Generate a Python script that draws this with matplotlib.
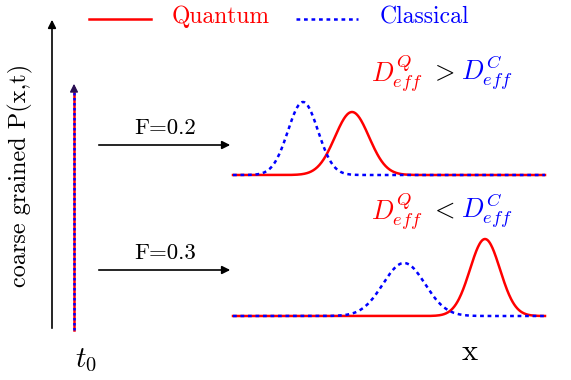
import numpy as np
import matplotlib
matplotlib.use("Agg")
import matplotlib.pyplot as plt

plt.rcParams['mathtext.fontset'] = 'cm'
plt.rcParams['font.family'] = ['cmr10', 'DejaVu Serif']

# Schematic data (pixel-like units, y downward)
legend_labels = ["Quantum", "Classical"]
force_labels = ["F=0.2", "F=0.3"]
baselines = [175, 316]
arrow_levels = [145, 270]
# peaks: (center, height, sigma)
quantum_peaks = [(352, 63, 17), (485, 77, 15)]
classical_peaks = [(303, 73, 15), (404, 53, 21)]
x_start, x_end = 233, 545

fig = plt.figure(figsize=(5.71, 3.80), dpi=100)
ax = fig.add_axes([0, 0, 1, 1])
ax.set_xlim(0, 571)
ax.set_ylim(380, 0)
ax.axis('off')

red = '#ff0000'
blue = '#0000ff'

# axes arrows
ax.annotate('', xy=(52, 17), xytext=(52, 331),
            arrowprops=dict(arrowstyle='-|>', color='black', lw=1.2, mutation_scale=12))
ax.annotate('', xy=(574, 330), xytext=(51, 330),
            arrowprops=dict(arrowstyle='-|>', color='black', lw=1.2, mutation_scale=12))

# t0 arrow (red solid with blue dotted on top)
ax.plot([74, 74], [330, 88], color=red, lw=1.8, zorder=4)
ax.plot([74, 74], [330, 90], color=blue, lw=1.8, ls=(0, (1.0, 1.0)), zorder=5)
ax.annotate('', xy=(74, 81), xytext=(74, 92),
            arrowprops=dict(arrowstyle='-|>', color='#2a0f55', lw=1.0, mutation_scale=12), zorder=6)

# curves
x = np.linspace(x_start, x_end, 600)
for b, (qc, qh, qs), (cc, ch, cs) in zip(baselines, quantum_peaks, classical_peaks):
    yq = b - qh * np.exp(-0.5 * ((x - qc) / qs) ** 2)
    yc = b - ch * np.exp(-0.5 * ((x - cc) / cs) ** 2)
    ax.plot(x, yq, color=red, lw=1.8)
    ax.plot(x, yc, color=blue, lw=1.8, ls=(0, (1.5, 1.5)))

# force arrows and labels
for ya, lab in zip(arrow_levels, force_labels):
    ax.annotate('', xy=(233, ya), xytext=(96, ya),
                arrowprops=dict(arrowstyle='-|>', color='black', lw=1.2, mutation_scale=12))
    ax.text(165, ya - 7, lab, ha='center', va='bottom', fontsize=16.5)

# D_eff annotations
for ytxt, sym in [(73, '>'), (211, '<')]:
    ax.text(423, ytxt, r'$D^Q_{eff}$', color=red, ha='right', va='center', fontsize=19)
    ax.text(442, ytxt, r'$' + sym + '$', color='black', ha='center', va='center', fontsize=19)
    ax.text(461, ytxt, r'$D^C_{eff}$', color=blue, ha='left', va='center', fontsize=19)

# legend
ax.plot([89, 151], [19, 19], color=red, lw=1.8)
ax.text(172, 17, legend_labels[0], color=red, ha='left', va='center', fontsize=17)
ax.plot([296, 358], [19, 19], color=blue, lw=1.8, ls=(0, (1.5, 1.5)))
ax.text(380, 17, legend_labels[1], color=blue, ha='left', va='center', fontsize=17)

# axis labels
ax.text(20, 175, 'coarse grained P(x,t)', rotation=90, ha='center', va='center', fontsize=17.5)
ax.text(470, 352, 'x', ha='center', va='center', fontsize=22)
ax.text(86, 360, r'$t_0$', ha='center', va='center', fontsize=21)

fig.savefig('out.png', dpi=100)
